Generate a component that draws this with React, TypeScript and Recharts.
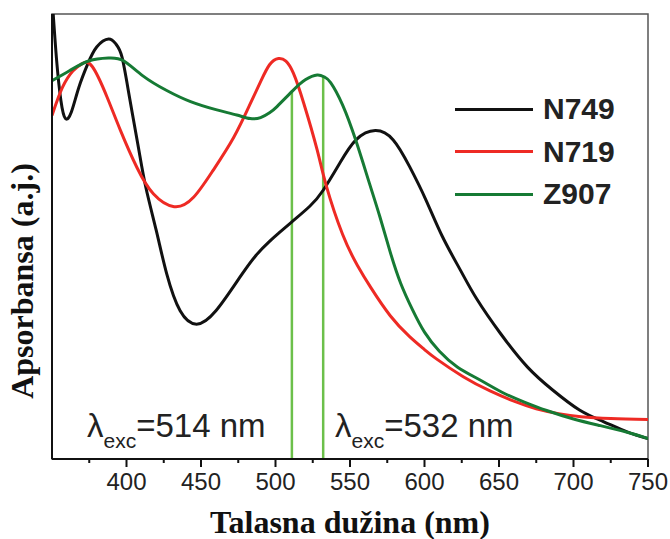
import {
  LineChart,
  Line,
  XAxis,
  YAxis,
  ReferenceLine,
  ReferenceArea,
  Legend,
  Label,
  Customized,
} from 'recharts'

// absorbance (arb. units, 0-100) vs wavelength (nm)
const n749 = [
  { nm: 350, a: 104 }, { nm: 353, a: 90 }, { nm: 356, a: 80.5 }, { nm: 359, a: 76.5 },
  { nm: 363, a: 78 }, { nm: 368, a: 83.5 }, { nm: 374, a: 88.8 }, { nm: 380, a: 92.6 },
  { nm: 388, a: 94.4 }, { nm: 393, a: 93.2 }, { nm: 397, a: 90.3 }, { nm: 402, a: 81.3 },
  { nm: 408, a: 70 }, { nm: 413, a: 61 }, { nm: 420, a: 51.3 }, { nm: 427, a: 41.6 },
  { nm: 436, a: 33.3 }, { nm: 447, a: 30.3 }, { nm: 460, a: 33.3 }, { nm: 476, a: 40.8 },
  { nm: 487, a: 45.8 }, { nm: 496, a: 48.9 }, { nm: 502, a: 50.7 }, { nm: 511, a: 53.3 },
  { nm: 523, a: 56.8 }, { nm: 532, a: 60.4 }, { nm: 543, a: 66.4 }, { nm: 554, a: 71.7 },
  { nm: 567, a: 73.8 }, { nm: 579, a: 71.7 }, { nm: 590, a: 65.7 }, { nm: 601, a: 58.2 },
  { nm: 612, a: 50 }, { nm: 624, a: 42.5 }, { nm: 635, a: 36 }, { nm: 651, a: 28.2 },
  { nm: 669, a: 20.7 }, { nm: 686, a: 15.5 }, { nm: 704, a: 11 }, { nm: 720, a: 8.4 },
  { nm: 736, a: 6.1 }, { nm: 750, a: 4.6 },
]

const n719 = [
  { nm: 350, a: 77.2 }, { nm: 357, a: 83.5 }, { nm: 364, a: 87.2 }, { nm: 370, a: 88.8 },
  { nm: 377, a: 88.2 }, { nm: 387, a: 81.3 }, { nm: 396, a: 73.8 }, { nm: 407, a: 65.5 },
  { nm: 418, a: 59.6 }, { nm: 432, a: 56.7 }, { nm: 445, a: 58.8 }, { nm: 458, a: 64.8 },
  { nm: 472, a: 72.3 }, { nm: 483, a: 79.8 }, { nm: 490, a: 84.8 }, { nm: 496, a: 88.6 },
  { nm: 502, a: 90 }, { nm: 507, a: 89.4 }, { nm: 512, a: 86.7 }, { nm: 519, a: 79.9 },
  { nm: 528, a: 69.4 }, { nm: 534, a: 61.5 }, { nm: 545, a: 50.5 }, { nm: 555, a: 43.5 },
  { nm: 564, a: 38.5 }, { nm: 577, a: 32.2 }, { nm: 590, a: 27.5 }, { nm: 600, a: 24.6 },
  { nm: 608, a: 22.5 }, { nm: 626, a: 18.5 }, { nm: 644, a: 15.3 }, { nm: 660, a: 13 },
  { nm: 675, a: 11.3 }, { nm: 690, a: 10.2 }, { nm: 705, a: 9.5 }, { nm: 725, a: 9.1 },
  { nm: 750, a: 8.9 },
]

const z907 = [
  { nm: 350, a: 85 }, { nm: 362, a: 87.3 }, { nm: 375, a: 89.5 }, { nm: 388, a: 90.1 },
  { nm: 398, a: 89.5 }, { nm: 411, a: 86.1 }, { nm: 427, a: 82.8 }, { nm: 443, a: 80.3 },
  { nm: 460, a: 78.5 }, { nm: 474, a: 77.3 }, { nm: 483, a: 76.5 }, { nm: 490, a: 76.7 },
  { nm: 496, a: 77.8 }, { nm: 501, a: 79.2 }, { nm: 512, a: 82.9 }, { nm: 520, a: 85.2 },
  { nm: 528, a: 86.3 }, { nm: 533, a: 85.8 }, { nm: 537, a: 84.6 }, { nm: 545, a: 79.6 },
  { nm: 554, a: 71.5 }, { nm: 563, a: 62 }, { nm: 570, a: 54.5 }, { nm: 577, a: 46.5 },
  { nm: 584, a: 39.5 }, { nm: 592, a: 33.5 }, { nm: 600, a: 28.5 }, { nm: 610, a: 24.2 },
  { nm: 622, a: 20.7 }, { nm: 637, a: 17.8 }, { nm: 652, a: 15 }, { nm: 667, a: 12.8 },
  { nm: 682, a: 10.9 }, { nm: 700, a: 9 }, { nm: 718, a: 7.5 }, { nm: 736, a: 6 },
  { nm: 750, a: 4.6 },
]

const seriesOrder = ['N749', 'N719', 'Z907']

// excitation wavelengths, line drawn up to the Z907 curve
const excitation = [
  { nm: 511, top: 82.6 },
  { nm: 532, top: 86 },
]

const xTicks = [375, 400, 425, 450, 475, 500, 525, 550, 575, 600, 625, 650, 675, 700, 725, 750]

const sans = "'Liberation Sans', Arial, sans-serif"
const serif = "'Liberation Serif', 'Times New Roman', serif"

const WaveTick = ({ x, y, payload }: any) => {
  const major = payload.value % 50 === 0
  return (
    <g>
      <line x1={x} x2={x} y1={y} y2={y + (major ? 8 : 4)} stroke='#111' strokeWidth={2} />
      {major && (
        <text x={x} y={y + 31} textAnchor='middle' fontSize={24} fontFamily={sans} fill='#222'>
          {payload.value}
        </text>
      )}
    </g>
  )
}

const LegendBox = ({ payload }: any) => {
  const items = [...(payload || [])].sort(
    (a: any, b: any) => seriesOrder.indexOf(a.value) - seriesOrder.indexOf(b.value)
  )
  return (
    <div>
      {items.map((entry: any) => (
        <div key={entry.value} style={{ display: 'flex', alignItems: 'center', height: 42.5 }}>
          <div style={{ width: 78, height: 3, background: entry.color, marginRight: 10 }} />
          <span style={{ fontFamily: sans, fontWeight: 'bold', fontSize: 30, color: '#222' }}>
            {entry.value}
          </span>
        </div>
      ))}
    </div>
  )
}

const ExcLabels = () => (
  <g fontFamily={sans} fill='#222'>
    <text x={87} y={437} fontSize={33}>
      λ<tspan fontSize={21} dy={11}>exc</tspan>
      <tspan dy={-11}>=514 nm</tspan>
    </text>
    <text x={335} y={437} fontSize={33}>
      λ<tspan fontSize={21} dy={11}>exc</tspan>
      <tspan dy={-11}>=532 nm</tspan>
    </text>
  </g>
)

export default function App() {
  return (
    <div style={{ position: 'absolute', left: 0, top: 0, background: '#fff' }}>
      <LineChart width={670} height={539} margin={{ top: 14, right: 22, left: 0, bottom: 0 }}>
        <XAxis
          dataKey='nm'
          type='number'
          domain={[350, 750]}
          ticks={xTicks}
          allowDataOverflow
          height={80}
          tickLine={false}
          tickSize={0}
          tickMargin={0}
          tick={<WaveTick />}
          interval={0}
          axisLine={{ stroke: '#111', strokeWidth: 2 }}
        >
          <Label
            value='Talasna dužina (nm)'
            position='insideBottom'
            offset={6}
            style={{ fontFamily: serif, fontWeight: 'bold', fontSize: 32, fill: '#111' }}
          />
        </XAxis>
        <YAxis
          type='number'
          domain={[0, 100]}
          allowDataOverflow
          width={52}
          tick={false}
          tickLine={false}
          axisLine={{ stroke: '#111', strokeWidth: 2 }}
        >
          <Label
            content={() => (
              <text
                x={22}
                y={281}
                transform='rotate(-90 22 281)'
                textAnchor='middle'
                dominantBaseline='central'
                fontFamily={serif}
                fontWeight='bold'
                fontSize={32}
                fill='#111'
              >
                Apsorbansa (a.j.)
              </text>
            )}
          />
        </YAxis>
        <ReferenceArea x1={350} x2={750} y1={0} y2={100} fill='none' stroke='#555' strokeWidth={1.5} />
        {excitation.map((e) => (
          <ReferenceLine
            key={e.nm}
            segment={[
              { x: e.nm, y: 0 },
              { x: e.nm, y: e.top },
            ]}
            stroke='#6cc04a'
            strokeWidth={2.5}
          />
        ))}
        <Line data={n749} dataKey='a' name='N749' type='natural' stroke='#111' strokeWidth={3} dot={false} isAnimationActive={false} />
        <Line data={n719} dataKey='a' name='N719' type='natural' stroke='#ee2a24' strokeWidth={3} dot={false} isAnimationActive={false} />
        <Line data={z907} dataKey='a' name='Z907' type='natural' stroke='#167a34' strokeWidth={3} dot={false} isAnimationActive={false} />
        <Legend
          layout='vertical'
          align='center'
          verticalAlign='middle'
          wrapperStyle={{ top: 88, left: 455, width: 'auto' }}
          content={<LegendBox />}
        />
        <Customized component={ExcLabels} />
      </LineChart>
    </div>
  )
}
